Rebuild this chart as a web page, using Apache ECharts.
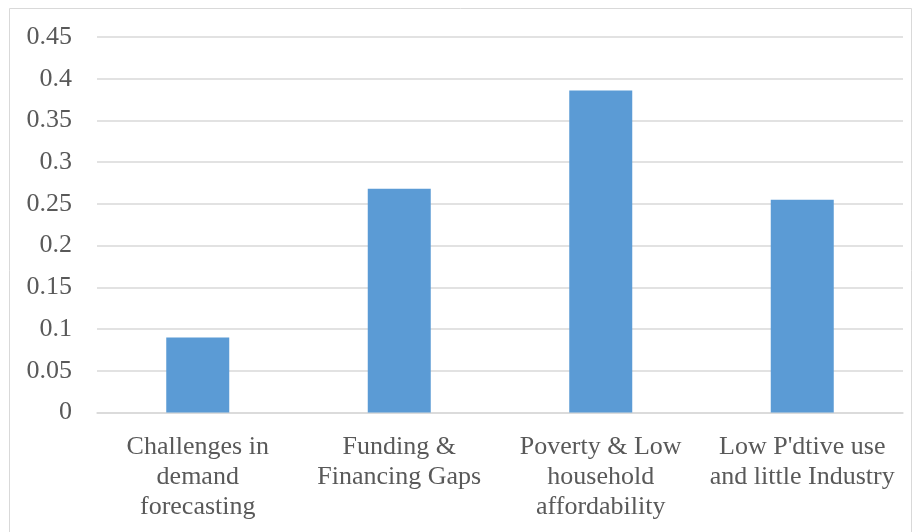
<!DOCTYPE html>
<html>
<head>
<meta charset="utf-8">
<script src="https://cdn.jsdelivr.net/npm/echarts@6/dist/echarts.min.js"></script>
<style>html,body{margin:0;padding:0;background:#fff;}#c{width:918px;height:532px;}</style>
</head>
<body>
<div id="c"></div>
<script>
const categories = ["Challenges in\ndemand\nforecasting", "Funding &\nFinancing Gaps", "Poverty & Low\nhousehold\naffordability", "Low P'dtive use\nand little Industry"];
const values = [0.09, 0.268, 0.386, 0.255];
const yTicks = {min: 0, max: 0.45, interval: 0.05};

const chart = echarts.init(document.getElementById('c'), null, {renderer: 'canvas'});
const font = '"Liberation Serif", "Times New Roman", serif';
chart.setOption({
  animation: false,
  backgroundColor: '#ffffff',
  graphic: [{
    type: 'rect', shape: {x: 9.5, y: 8.5, width: 902, height: 540},
    style: {fill: 'none', stroke: '#d9d9d9', lineWidth: 1}, silent: true
  }],
  grid: {left: 97, right: 15, top: 37, bottom: 119.5, containLabel: false},
  xAxis: {
    type: 'category', data: categories,
    axisLine: {lineStyle: {color: '#d9d9d9', width: 1.5}},
    axisTick: {show: false},
    axisLabel: {color: '#595959', fontFamily: font, fontSize: 26, lineHeight: 30, margin: 20, interval: 0}
  },
  yAxis: {
    type: 'value', min: yTicks.min, max: yTicks.max, interval: yTicks.interval,
    axisLine: {show: false}, axisTick: {show: false},
    splitLine: {lineStyle: {color: '#d9d9d9', width: 1.5}},
    axisLabel: {color: '#595959', fontFamily: font, fontSize: 26, margin: 25,
      formatter: v => String(parseFloat(v.toFixed(2)))}
  },
  series: [{
    type: 'bar', data: values, barWidth: 63,
    itemStyle: {color: '#5b9bd5'}
  }]
});
</script>
</body>
</html>
